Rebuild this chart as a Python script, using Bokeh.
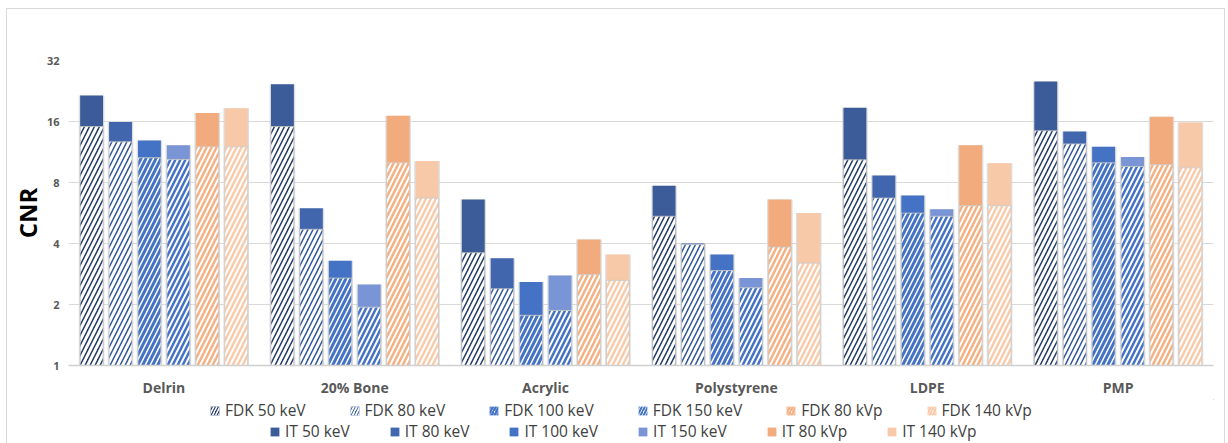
from bokeh.plotting import figure
from bokeh.layouts import column
from bokeh.models import (ColumnDataSource, FactorRange, Range1d, FixedTicker,
                          Legend, LegendItem, PrintfTickFormatter)
from bokeh.transform import dodge
from bokeh.embed import file_html
from bokeh.resources import INLINE

cats = ["Delrin", "20% Bone", "Acrylic", "Polystyrene", "LDPE", "PMP"]
energies = ["50 keV", "80 keV", "100 keV", "150 keV", "80 kVp", "140 kVp"]

fdk_50 = [15.1, 15.1, 3.6, 5.45, 10.35, 14.4]
fdk_80 = [12.7, 4.7, 2.39, 3.95, 6.7, 12.4]
fdk_100 = [10.6, 2.7, 1.77, 2.94, 5.65, 10.0]
fdk_150 = [10.4, 1.94, 1.87, 2.42, 5.45, 9.6]
fdk_80kvp = [12.0, 10.0, 2.81, 3.84, 6.15, 9.8]
fdk_140kvp = [12.0, 6.7, 2.63, 3.2, 6.15, 9.45]

it_50 = [21.5, 24.4, 6.6, 7.7, 18.7, 25.2]
it_80 = [15.9, 5.97, 3.38, 4.0, 8.66, 14.3]
it_100 = [12.9, 3.29, 2.58, 3.53, 6.9, 12.0]
it_150 = [12.2, 2.51, 2.78, 2.7, 5.9, 10.7]
it_80kvp = [17.6, 17.1, 4.19, 6.6, 12.2, 16.9]
it_140kvp = [18.6, 10.2, 3.53, 5.65, 9.96, 15.8]

y_ticks = [1, 2, 4, 8, 16, 32]

fdk_series = [fdk_50, fdk_80, fdk_100, fdk_150, fdk_80kvp, fdk_140kvp]
it_series = [it_50, it_80, it_100, it_150, it_80kvp, it_140kvp]

it_colors = ["#3c5c99", "#4166ae", "#4472c4", "#7a95d5", "#f2ab7c", "#f7c9a8"]
fdk_fill = ["#1f3864", "#2f5597", "white", "white", "white", "white"]
fdk_hatch = ["white", "white", "#4472c4", "#4472c4", "#f4b183", "#f8cbad"]
fdk_weight = [3.0, 3.0, 3.0, 2.5, 2.5, 2.5]
legend_weight = [1.6, 1.8, 2.4, 2.0, 2.4, 2.4]
HATCH_SCALE = 10

data = dict(cat=cats)
for i in range(6):
    data[f"fdk{i}"] = fdk_series[i]
    data[f"it{i}"] = it_series[i]
src = ColumnDataSource(data)

p = figure(x_range=FactorRange(*cats), y_range=Range1d(1, 32), y_axis_type="log",
           width=1217, height=390, output_backend="svg", toolbar_location=None,
           min_border_left=59, min_border_right=11, min_border_top=51, min_border_bottom=34)
p.outline_line_color = None
p.background_fill_color = "white"
p.border_fill_color = "white"

step = 0.1516
width = 0.12
for i in range(6):
    off = (i - 2.5) * step
    xd = dodge("cat", off, range=p.x_range)
    p.vbar(x=xd, top=f"it{i}", bottom=1, width=width + 0.014, source=src,
           fill_color="#d4d4d4", line_color=None, fill_alpha=0.8)
    p.vbar(x=xd, top=f"it{i}", bottom=1, width=width, source=src,
           fill_color=it_colors[i], line_color=None)
    p.vbar(x=xd, top=f"fdk{i}", bottom=1, width=width, source=src,
           fill_color=fdk_fill[i], line_color="#c8c8c8", line_width=0.8,
           hatch_pattern="/", hatch_color=fdk_hatch[i],
           hatch_scale=HATCH_SCALE, hatch_weight=fdk_weight[i])

p.xgrid.grid_line_color = None
p.ygrid.grid_line_color = "#d9d9d9"
p.ygrid.grid_line_width = 1

p.yaxis.ticker = FixedTicker(ticks=y_ticks)
p.yaxis.formatter = PrintfTickFormatter(format="%d")
p.yaxis.axis_line_color = None
p.yaxis.major_tick_line_color = None
p.yaxis.minor_tick_line_color = None
p.yaxis.major_tick_out = 0
p.yaxis.minor_tick_out = 0
p.yaxis.major_label_text_font = "Open Sans"
p.yaxis.major_label_text_font_style = "bold"
p.yaxis.major_label_text_font_size = "11px"
p.yaxis.major_label_text_color = "#595959"
p.yaxis.major_label_standoff = 9
p.yaxis.axis_label = "CNR"
p.yaxis.axis_label_text_font = "Open Sans"
p.yaxis.axis_label_text_font_style = "bold"
p.yaxis.axis_label_text_font_size = "24px"
p.yaxis.axis_label_text_color = "black"
p.yaxis.axis_label_standoff = 0

p.xaxis.axis_line_color = "#d0d0d0"
p.xaxis.axis_line_width = 1.5
p.xaxis.major_tick_line_color = None
p.xaxis.minor_tick_line_color = None
p.xaxis.major_tick_out = 0
p.xaxis.minor_tick_out = 0
p.xaxis.major_label_text_font = "Open Sans"
p.xaxis.major_label_text_font_style = "bold"
p.xaxis.major_label_text_font_size = "14px"
p.xaxis.major_label_text_color = "#595959"
p.xaxis.major_label_standoff = 12

# Legend panel (separate figure so the legend is never clipped);
# its glyphs reuse the chart data but lie outside this panel's ranges.
lf = figure(width=1217, height=44, output_backend="svg", toolbar_location=None,
            x_range=Range1d(-2, -1), y_range=Range1d(-2, -1),
            x_axis_location=None, y_axis_location=None,
            min_border_left=0, min_border_right=0, min_border_top=0, min_border_bottom=0)
lf.outline_line_color = None
lf.xgrid.grid_line_color = None
lf.ygrid.grid_line_color = None
fdk_items, it_items = [], []
for i in range(6):
    r_it = lf.vbar(x=f"it{i}", top=f"it{i}", width=0.1, source=src,
                   fill_color=it_colors[i], line_color=None)
    r_fdk = lf.vbar(x=f"fdk{i}", top=f"fdk{i}", width=0.1, source=src,
                    fill_color=fdk_fill[i], line_color=None,
                    hatch_pattern="/", hatch_color=fdk_hatch[i],
                    hatch_scale=6, hatch_weight=legend_weight[i])
    fdk_items.append(LegendItem(label="FDK " + energies[i], renderers=[r_fdk]))
    it_items.append(LegendItem(label="IT " + energies[i], renderers=[r_it]))

for items, loc, sp in ((fdk_items, (141, 22), 43), (it_items, (201, 1), 39)):
    lg = Legend(items=items, orientation="horizontal", location=loc,
                label_text_font="Open Sans", label_text_font_size="15.5px",
                label_text_color="#404040", glyph_width=11, glyph_height=11,
                label_standoff=5, spacing=sp, padding=0, margin=0,
                label_height=16, border_line_color=None, background_fill_alpha=0)
    lf.add_layout(lg, "center")

layout = column(p, lf, spacing=0,
                styles={"border": "1px solid #d9d9d9", "margin-left": "6px",
                        "margin-top": "8px"})

open("out.html", "w").write(file_html(layout, INLINE))
